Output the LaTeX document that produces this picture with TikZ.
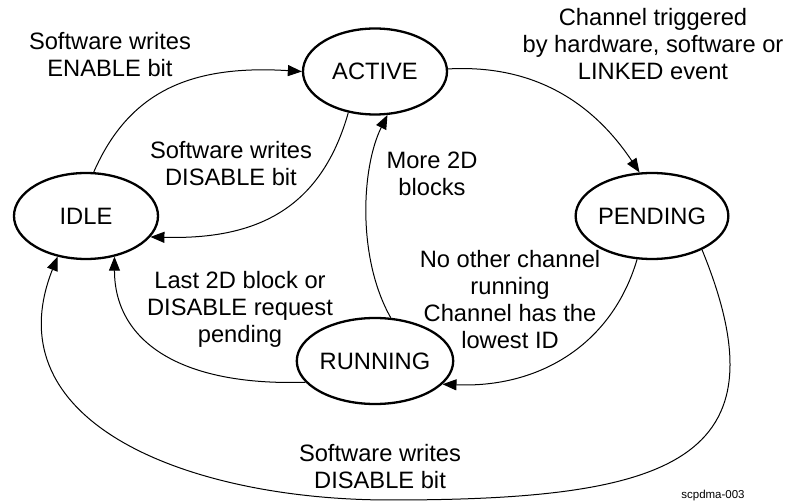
\documentclass[tikz,border=0pt]{standalone}
\usepackage{fontspec}
\setmainfont{Liberation Sans}
\usetikzlibrary{shapes.geometric,arrows.meta}
\begin{document}
\begin{tikzpicture}[x=1pt,y=1pt,
  state/.style={draw, ellipse, line width=2.3pt, minimum width=144pt, minimum height=86pt, inner sep=0pt, font=\fontsize{23.7}{27}\selectfont},
  lbl/.style={align=center, inner sep=0pt, font=\fontsize{23.7}{27}\selectfont},
  note/.style={inner sep=0pt, font=\fontsize{11.5}{13}\selectfont},
  edge/.style={line width=1pt, -{Triangle[length=14pt,width=11pt]}}]
\useasboundingbox (0,0) rectangle (785,-502);

\node[state] (active)  at (375,-71.5) {ACTIVE};
\node[state] (idle)    at (86,-216)   {IDLE};
\node[state] (pending) at (652,-216)  {PENDING};
\node[state] (running) at (375,-361)  {RUNNING};

\node[lbl] (l1) at (110,-55)  {Software writes\\ENABLE bit};
\node[lbl] (l2) at (231,-164) {Software writes\\DISABLE bit};
\node[lbl] (l3) at (432,-174) {More 2D\\blocks};
\node[lbl] (l4) at (653,-44)  {Channel triggered\\by hardware, software or\\LINKED event};
\node[lbl] (l5) at (510,-300) {No other channel\\running\\Channel has the\\lowest ID};
\node[lbl] (l6) at (240,-309) {Last 2D block or\\DISABLE request\\pending};
\node[lbl] (l7) at (380,-467) {Software writes\\DISABLE bit};
\node[note] (id) at (713,-496) {scpdma-003};

\draw[edge] (idle.80) .. controls +(35,80) and +(-112,7) .. (active.west);
\draw[edge] (active.237) .. controls +(-27,-95) and +(108,-3) .. (idle.342);
\draw[edge] (active.2) .. controls +(90,5) and +(-44,66) .. (pending.106);
\draw[edge] (pending.251) .. controls +(-25,-85) and +(97,-4) .. (running.341);
\draw[edge] (running.70) .. controls +(-34,60) and +(-26,-52) .. (active.286);
\draw[edge] (running.197) .. controls +(-128,-4) and +(0,-83) .. (idle.305);
\draw[edge] (pending.326) .. controls +(87,-212) and +(280,0) .. (390,-500)
  .. controls +(-200,0) and +(-66,-167) .. (idle.235);
\end{tikzpicture}
\end{document}
